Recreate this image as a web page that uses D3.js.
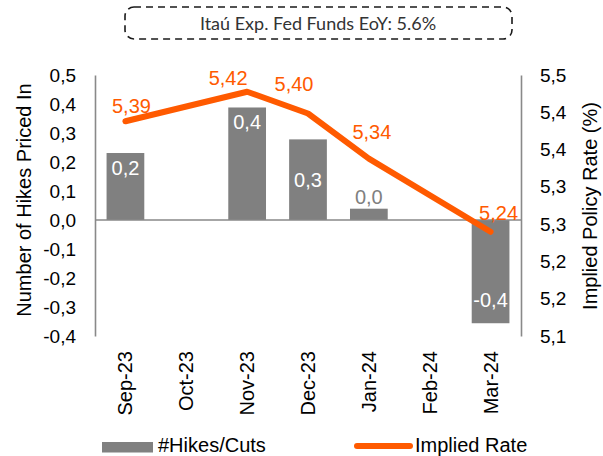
<!DOCTYPE html>
<html>
<head>
<meta charset="utf-8">
<script src="https://cdn.jsdelivr.net/npm/d3@7/dist/d3.min.js"></script>
<style>
    body { margin: 0; background: #fff; }
    svg { display: block; font-family: "Liberation Sans", Arial, sans-serif; }
</style>
</head>
<body>
<svg id="chart" width="603" height="456"></svg>
<script>
// values (Oct / Feb have no points)
const months = ["Sep-23", "Oct-23", "Nov-23", "Dec-23", "Jan-24", "Feb-24", "Mar-24"];
const hikes = [0.231, null, 0.388, 0.278, 0.039, null, -0.356];
const rate = [5.386, null, 5.424, 5.396, 5.338, null, 5.244];
const leftTicks = [-0.4, -0.3, -0.2, -0.1, 0, 0.1, 0.2, 0.3, 0.4, 0.5];
const rightTickLabels = ["5,1", "5,2", "5,2", "5,3", "5,3", "5,4", "5,4", "5,5"];
const rateDomain = [5.11, 5.4455];
const titleText = "Itaú Exp. Fed Funds EoY: 5.6%";

const grey = "#808080";
const axisGrey = "#898989";
const orange = "#ff5a00";

const locale = d3.formatLocale({decimal: ",", thousands: ".", grouping: [3], currency: ["", ""], minus: "-"});
const fmt1 = locale.format(".1f");
const fmt2 = locale.format(".2f");

const svg = d3.select("#chart");
const plot = {left: 95, right: 521, top: 75, bottom: 336};

const x = d3.scaleBand()
    .domain(months)
    .range([plot.left, plot.right])
    .paddingInner(0.38)
    .paddingOuter(0.19);

const yL = d3.scaleLinear()
    .domain([-0.4, 0.5])
    .range([plot.bottom, plot.top]);

const yR = d3.scaleLinear()
    .domain(rateDomain)
    .range([plot.bottom, plot.top]);

const cx = m => x(m) + x.bandwidth() / 2;

// title box
svg.append("rect")
    .attr("x", 125).attr("y", 7)
    .attr("width", 387).attr("height", 32)
    .attr("rx", 9)
    .attr("fill", "none")
    .attr("stroke", "#1a1a1a")
    .attr("stroke-width", 1.6)
    .attr("stroke-dasharray", "7,5");

svg.append("text")
    .attr("x", 318).attr("y", 30)
    .attr("text-anchor", "middle")
    .style("font-family", "Lato, 'Open Sans', sans-serif")
    .style("font-size", "18px")
    .attr("fill", "#333")
    .text(titleText);

// bars
const barData = months.map((m, i) => ({m, v: hikes[i]})).filter(d => d.v !== null);

svg.append("g")
    .selectAll("rect")
    .data(barData)
    .join("rect")
    .attr("x", d => x(d.m))
    .attr("width", x.bandwidth())
    .attr("y", d => yL(Math.max(0, d.v)))
    .attr("height", d => Math.abs(yL(d.v) - yL(0)))
    .attr("fill", grey);

// axes
const leftAxis = svg.append("g")
    .attr("transform", `translate(${plot.left},0)`)
    .call(d3.axisLeft(yL).tickValues(leftTicks).tickSize(0).tickPadding(19).tickFormat(fmt1));

const rightTicks = d3.range(rightTickLabels.length)
    .map(i => rateDomain[0] + i * (rateDomain[1] - rateDomain[0]) / (rightTickLabels.length - 1));

const rightAxis = svg.append("g")
    .attr("transform", `translate(${plot.right},0)`)
    .call(d3.axisRight(yR).tickValues(rightTicks).tickSize(0).tickPadding(19)
        .tickFormat((d, i) => rightTickLabels[i]));

[leftAxis, rightAxis].forEach(g => {
    g.select(".domain").attr("stroke", axisGrey).attr("stroke-width", 1.6);
    g.selectAll("text").style("font-size", "19px").attr("fill", "#000");
});

// zero line
svg.append("line")
    .attr("x1", plot.left).attr("x2", plot.right)
    .attr("y1", yL(0)).attr("y2", yL(0))
    .attr("stroke", axisGrey)
    .attr("stroke-width", 1.6);

// month labels
svg.append("g")
    .selectAll("text")
    .data(months)
    .join("text")
    .attr("transform", d => `translate(${cx(d)},351) rotate(-90)`)
    .attr("dy", "0.35em")
    .attr("text-anchor", "end")
    .style("font-size", "20px")
    .text(d => d);

// implied rate line, joined across the empty months
const lineData = months.map((m, i) => ({m, v: rate[i]})).filter(d => d.v !== null);

svg.append("path")
    .datum(lineData)
    .attr("fill", "none")
    .attr("stroke", orange)
    .attr("stroke-width", 6)
    .attr("stroke-linecap", "round")
    .attr("stroke-linejoin", "round")
    .attr("d", d3.line().x(d => cx(d.m)).y(d => yR(d.v)));

// bar labels
const midLabel = ["Dec-23"];
svg.append("g")
    .selectAll("text")
    .data(barData)
    .join("text")
    .attr("x", d => cx(d.m))
    .attr("y", d => {
        const top = yL(Math.max(0, d.v));
        const bot = yL(Math.min(0, d.v));
        if (bot - top < 20) return top - 5;
        if (midLabel.includes(d.m)) return (top + bot) / 2 + 7;
        return d.v > 0 ? top + 22 : bot - 16;
    })
    .attr("text-anchor", "middle")
    .style("font-size", "20px")
    .attr("fill", d => Math.abs(yL(d.v) - yL(0)) < 20 ? grey : "#fff")
    .text(d => fmt1(d.v));

// rate labels, nudged like the original
const nudge = {"Sep-23": [6, -8], "Nov-23": [-19, -7], "Dec-23": [-14, -23], "Jan-24": [3, -20], "Mar-24": [8, -12]};
svg.append("g")
    .selectAll("text")
    .data(lineData)
    .join("text")
    .attr("x", d => cx(d.m) + nudge[d.m][0])
    .attr("y", d => yR(d.v) + nudge[d.m][1])
    .attr("text-anchor", "middle")
    .style("font-size", "20px")
    .attr("fill", orange)
    .text(d => fmt2(d.v));

// axis titles
svg.append("text")
    .attr("transform", "translate(31,200) rotate(-90)")
    .attr("text-anchor", "middle")
    .style("font-size", "20px")
    .text("Number of Hikes Priced In");

svg.append("text")
    .attr("transform", "translate(597,206) rotate(-90)")
    .attr("text-anchor", "middle")
    .style("font-size", "20px")
    .text("Implied Policy Rate (%)");

// legend
const legend = svg.append("g");
legend.append("rect")
    .attr("x", 102).attr("y", 442)
    .attr("width", 51).attr("height", 10.5)
    .attr("fill", grey);
legend.append("text")
    .attr("x", 158).attr("y", 451.5)
    .style("font-size", "20px")
    .text("#Hikes/Cuts");
legend.append("line")
    .attr("x1", 357).attr("x2", 410)
    .attr("y1", 446).attr("y2", 446)
    .attr("stroke", orange)
    .attr("stroke-width", 6)
    .attr("stroke-linecap", "round");
legend.append("text")
    .attr("x", 415).attr("y", 451.5)
    .style("font-size", "20px")
    .text("Implied Rate");
</script>
</body>
</html>
